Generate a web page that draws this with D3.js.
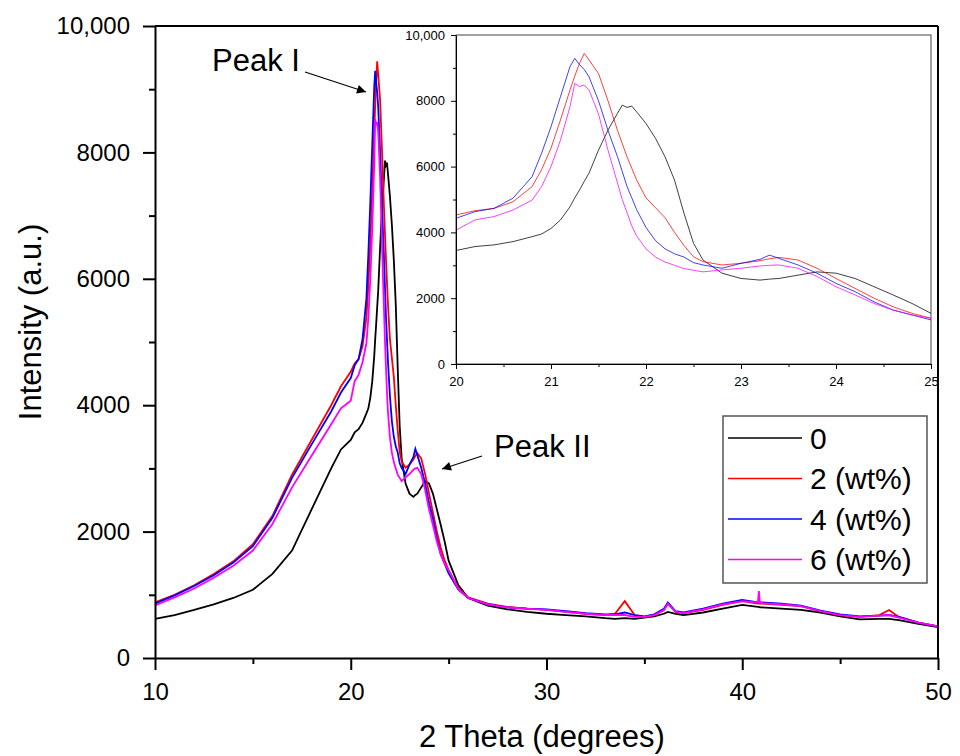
<!DOCTYPE html>
<html lang="en">
<head>
    <meta charset="UTF-8">
    <title>XRD patterns</title>
    <script src="https://cdn.jsdelivr.net/npm/d3@7/dist/d3.min.js"></script>
    <style>
        body { margin: 0; background: #fff; }
        svg { display: block; font-family: "Liberation Sans", Arial, sans-serif; }
    </style>
</head>
<body>
<div id="chart"></div>
<script>
// 2 theta positions (degrees)
const twoTheta = [10, 11, 12, 13, 14, 15, 16, 17, 18, 19, 19.5,
    20, 20.2, 20.4, 20.6, 20.8, 20.9, 21, 21.1, 21.2, 21.25, 21.3, 21.35, 21.4, 21.5, 21.6, 21.7, 21.75, 21.8, 21.85, 21.9,
    22, 22.1, 22.2, 22.3, 22.4, 22.5, 22.6, 22.8, 23, 23.2, 23.3, 23.4, 23.6, 23.8, 24, 24.2, 24.4, 24.6, 24.8, 25,
    25.5, 26, 27, 28, 29, 30, 31, 32, 33, 33.5, 34, 34.5, 35, 35.5, 36, 36.2, 36.6, 37, 38, 39, 40,
    40.8, 40.85, 40.9, 41, 42, 43, 44, 45, 46, 47, 47.5, 48, 49, 50];

// intensity (a.u.) for each loading
const int0 = [620, 680, 760, 850, 950, 1080, 1330, 1700, 2350, 3000, 3300,
    3450, 3570, 3620, 3720, 3870, 3950, 4120, 4380, 4780, 5050, 5290, 5550, 5800, 6500, 7110, 7620, 7870, 7800, 7840, 7670,
    7310, 6860, 6300, 5590, 4580, 3670, 3160, 2760, 2600, 2550, 2580, 2600, 2700, 2800, 2760, 2600, 2350, 2100, 1840, 1540,
    1150, 950, 830, 770, 730, 700, 680, 660, 630, 620, 630, 620, 640, 660, 700, 730, 700, 680, 720, 780, 840,
    810, 810, 800, 800, 780, 760, 720, 660, 610, 620, 620, 600, 540, 490];

const int2 = [880, 1000, 1150, 1330, 1530, 1800, 2250, 2900, 3450, 4000, 4300,
    4530, 4660, 4730, 4930, 5390, 5900, 6560, 7420, 8330, 8750, 9140, 9440, 9240, 8830, 8000, 7100, 6700, 6300, 5950, 5600,
    5050, 4750, 4450, 4000, 3600, 3260, 3110, 3010, 3060, 3140, 3200, 3240, 3160, 2910, 2600, 2300, 2000, 1740, 1540, 1390,
    1100, 960, 860, 810, 780, 760, 730, 700, 680, 700, 900, 680, 650, 680, 760, 860, 730, 710, 760, 840, 900,
    860, 860, 860, 860, 840, 820, 740, 680, 650, 680, 760, 650, 560, 500];

const int4 = [860, 990, 1140, 1310, 1510, 1770, 2220, 2850, 3380, 3900, 4200,
    4430, 4630, 4730, 5040, 5690, 6400, 7210, 8130, 9040, 9290, 9100, 8950, 8730, 8000, 7100, 6300, 5850, 5400, 5050, 4700,
    4150, 3750, 3500, 3350, 3250, 3080, 3010, 2910, 3060, 3180, 3310, 3210, 3010, 2760, 2450, 2200, 1890, 1640, 1490, 1340,
    1080, 950, 850, 800, 780, 770, 740, 710, 690, 690, 720, 680, 660, 690, 780, 880, 740, 720, 780, 860, 920,
    880, 880, 880, 880, 860, 830, 750, 690, 660, 670, 680, 650, 560, 500];

const int6 = [830, 960, 1100, 1270, 1460, 1700, 2120, 2700, 3200, 3700, 3950,
    4070, 4380, 4480, 4680, 4980, 5390, 6000, 6810, 7820, 8530, 8430, 8480, 8330, 7600, 6500, 5500, 5000, 4600, 4200, 3900,
    3500, 3250, 3100, 3000, 2900, 2850, 2800, 2860, 2910, 2980, 3000, 3010, 2910, 2660, 2350, 2100, 1840, 1640, 1490, 1390,
    1090, 950, 850, 800, 780, 760, 730, 700, 680, 680, 680, 650, 650, 680, 760, 860, 730, 710, 770, 850, 900,
    880, 1060, 880, 870, 850, 820, 740, 680, 650, 670, 680, 640, 560, 500];

const seriesNames = ["0", "2 (wt%)", "4 (wt%)", "6 (wt%)"];
const seriesColors = ["#000000", "#ff0000", "#0000ff", "#ff00ff"];

const mainXTicks = [10, 20, 30, 40, 50];
const mainXMinor = [15, 25, 35, 45];
const mainYTicks = [0, 2000, 4000, 6000, 8000, 10000];
const mainYMinor = [1000, 3000, 5000, 7000, 9000];
const insetXTicks = [20, 21, 22, 23, 24, 25];
const insetXMinor = [20.5, 21.5, 22.5, 23.5, 24.5];
const insetYTicks = [0, 2000, 4000, 6000, 8000, 10000];
const insetYMinor = [1000, 3000, 5000, 7000, 9000];

const fmt = d => d === 10000 ? "10,000" : String(d);

const width = 960, height = 756;
const svg = d3.select("#chart").append("svg")
    .attr("width", width)
    .attr("height", height);

svg.append("defs").append("marker")
    .attr("id", "arrow")
    .attr("viewBox", "0 0 10 10")
    .attr("refX", 10).attr("refY", 5)
    .attr("markerWidth", 16).attr("markerHeight", 9)
    .attr("markerUnits", "userSpaceOnUse")
    .attr("orient", "auto")
    .append("path")
    .attr("d", "M0,0 L10,5 L0,10 Z")
    .attr("fill", "#000");

const series = [int0, int2, int4, int6].map(vals => twoTheta.map((t, i) => [t, vals[i]]));

// ---- main plot
const x = d3.scaleLinear().domain([10, 50]).range([155, 938]);
const y = d3.scaleLinear().domain([0, 10000]).range([658, 26]);

const line = d3.line().x(d => x(d[0])).y(d => y(d[1]));
svg.append("g").selectAll("path")
    .data(series)
    .enter()
    .append("path")
    .attr("d", line)
    .attr("fill", "none")
    .attr("stroke", (d, i) => seriesColors[i])
    .attr("stroke-width", 1.8);

// frame: top and right
svg.append("line").attr("x1", x(10)).attr("x2", x(50)).attr("y1", y(10000)).attr("y2", y(10000))
    .attr("stroke", "#000").attr("stroke-width", 2);
svg.append("line").attr("x1", x(50)).attr("x2", x(50)).attr("y1", y(10000)).attr("y2", y(0))
    .attr("stroke", "#000").attr("stroke-width", 2);

function styleAxis(g, size) {
    g.select(".domain").attr("stroke-width", 2);
    g.selectAll(".tick line").attr("stroke-width", 2);
    g.selectAll("text").style("font-size", size + "px").attr("fill", "#000");
}

const xAxis = svg.append("g")
    .attr("transform", `translate(0, ${y(0)})`)
    .call(d3.axisBottom(x).tickValues(mainXTicks).tickSize(12).tickSizeOuter(0).tickFormat(fmt));
styleAxis(xAxis, 24);
xAxis.selectAll("text").attr("y", 42).attr("dy", 0);
svg.append("g")
    .attr("transform", `translate(0, ${y(0)})`)
    .call(d3.axisBottom(x).tickValues(mainXMinor).tickSize(6).tickFormat(""))
    .call(g => g.select(".domain").remove())
    .selectAll("line").attr("stroke-width", 2);

const yAxis = svg.append("g")
    .attr("transform", `translate(${x(10)}, 0)`)
    .call(d3.axisLeft(y).tickValues(mainYTicks).tickSize(12).tickSizeOuter(0).tickPadding(13).tickFormat(fmt));
styleAxis(yAxis, 24);
svg.append("g")
    .attr("transform", `translate(${x(10)}, 0)`)
    .call(d3.axisLeft(y).tickValues(mainYMinor).tickSize(6).tickFormat(""))
    .call(g => g.select(".domain").remove())
    .selectAll("line").attr("stroke-width", 2);

// axis titles
svg.append("text")
    .attr("x", 542)
    .attr("y", 747)
    .attr("text-anchor", "middle")
    .style("font-size", "31px")
    .text("2 Theta (degrees)");
svg.append("text")
    .attr("transform", "translate(41, 322) rotate(-90)")
    .attr("text-anchor", "middle")
    .style("font-size", "31px")
    .text("Intensity (a.u.)");

// peak annotations
svg.append("text").attr("x", 212).attr("y", 71).style("font-size", "31px").text("Peak I");
svg.append("line").attr("x1", 305).attr("y1", 72).attr("x2", 366).attr("y2", 92)
    .attr("stroke", "#000").attr("stroke-width", 1.2).attr("marker-end", "url(#arrow)");
svg.append("text").attr("x", 494).attr("y", 457).style("font-size", "31px").text("Peak II");
svg.append("line").attr("x1", 482).attr("y1", 456).attr("x2", 442).attr("y2", 469)
    .attr("stroke", "#000").attr("stroke-width", 1.2).attr("marker-end", "url(#arrow)");

// legend
const legend = svg.append("g");
legend.append("rect")
    .attr("x", 723).attr("y", 416).attr("width", 204).attr("height", 167)
    .attr("fill", "#fff").attr("stroke", "#555").attr("stroke-width", 1.5);
seriesNames.forEach((name, i) => {
    const ly = 438 + i * 40.5;
    legend.append("line").attr("x1", 728).attr("x2", 802).attr("y1", ly).attr("y2", ly)
        .attr("stroke", seriesColors[i]).attr("stroke-width", 1.3);
    legend.append("text").attr("x", 810).attr("y", ly).attr("dy", "0.35em")
        .style("font-size", "30px").text(name);
});

// ---- inset (zoom on 20-25 degrees)
const ix = d3.scaleLinear().domain([20, 25]).range([456, 931]);
const iy = d3.scaleLinear().domain([0, 10000]).range([364, 35]);

const inset = svg.append("g");
inset.append("rect")
    .attr("x", ix(20)).attr("y", iy(10000))
    .attr("width", ix(25) - ix(20)).attr("height", iy(0) - iy(10000))
    .attr("fill", "#fff").attr("stroke", "#444").attr("stroke-width", 1);

const iline = d3.line().x(d => ix(d[0])).y(d => iy(d[1]));
inset.append("g").selectAll("path")
    .data(series.map(s => s.filter(d => d[0] >= 20 && d[0] <= 25)))
    .enter()
    .append("path")
    .attr("d", iline)
    .attr("fill", "none")
    .attr("stroke", (d, i) => seriesColors[i])
    .attr("stroke-opacity", 0.75)
    .attr("stroke-width", 1);

const ixAxis = inset.append("g")
    .attr("transform", `translate(0, ${iy(0)})`)
    .call(d3.axisBottom(ix).tickValues(insetXTicks).tickSize(5).tickSizeOuter(0).tickFormat(d3.format("d")));
ixAxis.selectAll("text").style("font-size", "13px").attr("fill", "#000").attr("y", 22).attr("dy", 0);
inset.append("g")
    .attr("transform", `translate(0, ${iy(0)})`)
    .call(d3.axisBottom(ix).tickValues(insetXMinor).tickSize(3).tickFormat(""))
    .call(g => g.select(".domain").remove());

const iyAxis = inset.append("g")
    .attr("transform", `translate(${ix(20)}, 0)`)
    .call(d3.axisLeft(iy).tickValues(insetYTicks).tickSize(5).tickSizeOuter(0).tickPadding(6).tickFormat(fmt));
iyAxis.selectAll("text").style("font-size", "13px").attr("fill", "#000");
inset.append("g")
    .attr("transform", `translate(${ix(20)}, 0)`)
    .call(d3.axisLeft(iy).tickValues(insetYMinor).tickSize(3).tickFormat(""))
    .call(g => g.select(".domain").remove());
</script>
</body>
</html>
